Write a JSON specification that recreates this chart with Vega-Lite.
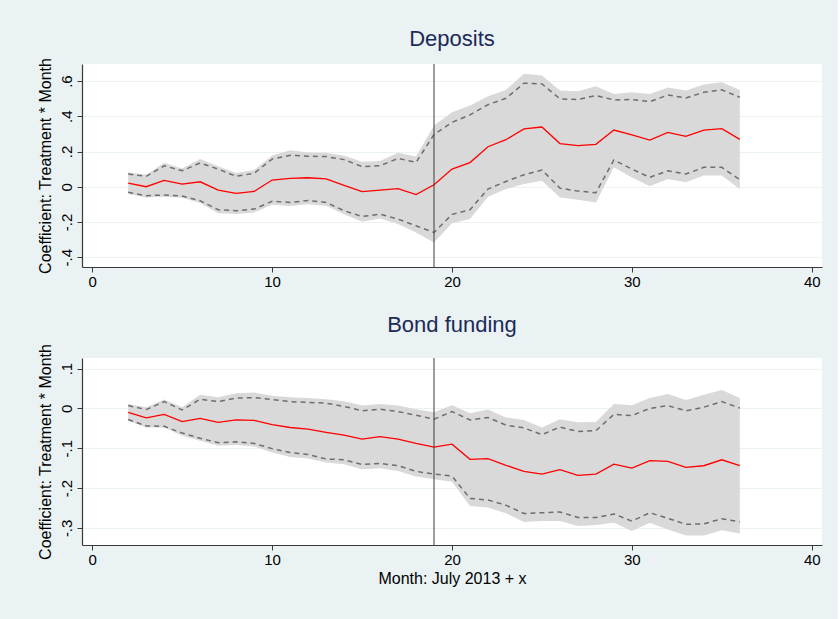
{
  "$schema": "https://vega.github.io/schema/vega-lite/v6.json",
  "background": "#eaf2f3",
  "padding": {"left": 36, "top": 28, "right": 16, "bottom": 50},
  "config": {
    "view": {"stroke": null, "fill": "white"},
    "font": "Liberation Sans",
    "axis": {
      "domainColor": "#3a3a3a", "tickColor": "#3a3a3a", "labelColor": "#000000", "titleColor": "#000000",
      "labelFont": "Liberation Sans", "titleFont": "Liberation Sans", "labelFontSize": 15, "titleFontSize": 16,
      "titleFontWeight": "normal", "tickSize": 5, "domainWidth": 1.2, "tickWidth": 1
    },
    "title": {"font": "Liberation Sans", "fontSize": 22, "fontWeight": "normal", "color": "#1c2a58", "anchor": "middle", "offset": 6},
    "concat": {"spacing": 25}
  },
  "datasets": {
    "dep": [
      {"month": 2, "est": 0.021, "lo90": -0.032, "hi90": 0.072, "lo95": -0.042, "hi95": 0.082},
      {"month": 3, "est": 0.000, "lo90": -0.051, "hi90": 0.059, "lo95": -0.061, "hi95": 0.068},
      {"month": 4, "est": 0.036, "lo90": -0.047, "hi90": 0.119, "lo95": -0.057, "hi95": 0.136},
      {"month": 5, "est": 0.015, "lo90": -0.053, "hi90": 0.091, "lo95": -0.063, "hi95": 0.104},
      {"month": 6, "est": 0.028, "lo90": -0.080, "hi90": 0.135, "lo95": -0.093, "hi95": 0.157},
      {"month": 7, "est": -0.019, "lo90": -0.131, "hi90": 0.100, "lo95": -0.150, "hi95": 0.116},
      {"month": 8, "est": -0.038, "lo90": -0.136, "hi90": 0.059, "lo95": -0.155, "hi95": 0.078},
      {"month": 9, "est": -0.027, "lo90": -0.127, "hi90": 0.076, "lo95": -0.146, "hi95": 0.095},
      {"month": 10, "est": 0.038, "lo90": -0.083, "hi90": 0.157, "lo95": -0.102, "hi95": 0.178},
      {"month": 11, "est": 0.047, "lo90": -0.089, "hi90": 0.178, "lo95": -0.110, "hi95": 0.207},
      {"month": 12, "est": 0.051, "lo90": -0.078, "hi90": 0.173, "lo95": -0.100, "hi95": 0.195},
      {"month": 13, "est": 0.044, "lo90": -0.089, "hi90": 0.171, "lo95": -0.108, "hi95": 0.193},
      {"month": 14, "est": 0.008, "lo90": -0.136, "hi90": 0.154, "lo95": -0.157, "hi95": 0.176},
      {"month": 15, "est": -0.028, "lo90": -0.169, "hi90": 0.114, "lo95": -0.199, "hi95": 0.142},
      {"month": 16, "est": -0.019, "lo90": -0.156, "hi90": 0.119, "lo95": -0.180, "hi95": 0.146},
      {"month": 17, "est": -0.011, "lo90": -0.184, "hi90": 0.161, "lo95": -0.212, "hi95": 0.193},
      {"month": 18, "est": -0.045, "lo90": -0.222, "hi90": 0.138, "lo95": -0.260, "hi95": 0.171},
      {"month": 19, "est": 0.011, "lo90": -0.260, "hi90": 0.296, "lo95": -0.317, "hi95": 0.347},
      {"month": 20, "est": 0.100, "lo90": -0.157, "hi90": 0.366, "lo95": -0.207, "hi95": 0.423},
      {"month": 21, "est": 0.137, "lo90": -0.131, "hi90": 0.408, "lo95": -0.184, "hi95": 0.461},
      {"month": 22, "est": 0.227, "lo90": -0.013, "hi90": 0.466, "lo95": -0.057, "hi95": 0.514},
      {"month": 23, "est": 0.267, "lo90": 0.030, "hi90": 0.502, "lo95": -0.013, "hi95": 0.550},
      {"month": 24, "est": 0.328, "lo90": 0.068, "hi90": 0.588, "lo95": 0.015, "hi95": 0.641},
      {"month": 25, "est": 0.339, "lo90": 0.095, "hi90": 0.584, "lo95": 0.034, "hi95": 0.631},
      {"month": 26, "est": 0.245, "lo90": -0.008, "hi90": 0.499, "lo95": -0.061, "hi95": 0.546},
      {"month": 27, "est": 0.233, "lo90": -0.025, "hi90": 0.495, "lo95": -0.074, "hi95": 0.542},
      {"month": 28, "est": 0.241, "lo90": -0.034, "hi90": 0.518, "lo95": -0.089, "hi95": 0.571},
      {"month": 29, "est": 0.322, "lo90": 0.152, "hi90": 0.493, "lo95": 0.110, "hi95": 0.527},
      {"month": 30, "est": 0.294, "lo90": 0.100, "hi90": 0.495, "lo95": 0.053, "hi95": 0.536},
      {"month": 31, "est": 0.265, "lo90": 0.053, "hi90": 0.483, "lo95": 0.002, "hi95": 0.527},
      {"month": 32, "est": 0.309, "lo90": 0.091, "hi90": 0.521, "lo95": 0.044, "hi95": 0.563},
      {"month": 33, "est": 0.286, "lo90": 0.072, "hi90": 0.504, "lo95": 0.025, "hi95": 0.546},
      {"month": 34, "est": 0.322, "lo90": 0.110, "hi90": 0.536, "lo95": 0.063, "hi95": 0.580},
      {"month": 35, "est": 0.330, "lo90": 0.110, "hi90": 0.550, "lo95": 0.063, "hi95": 0.593},
      {"month": 36, "est": 0.269, "lo90": 0.040, "hi90": 0.508, "lo95": -0.013, "hi95": 0.550}
    ],
    "bond": [
      {"month": 2, "est": -0.010, "lo90": -0.028, "hi90": 0.007, "lo95": -0.031, "hi95": 0.011},
      {"month": 3, "est": -0.024, "lo90": -0.044, "hi90": -0.003, "lo95": -0.048, "hi95": 0.003},
      {"month": 4, "est": -0.015, "lo90": -0.045, "hi90": 0.017, "lo95": -0.048, "hi95": 0.022},
      {"month": 5, "est": -0.033, "lo90": -0.062, "hi90": -0.004, "lo95": -0.069, "hi95": 0.003},
      {"month": 6, "est": -0.025, "lo90": -0.075, "hi90": 0.023, "lo95": -0.081, "hi95": 0.034},
      {"month": 7, "est": -0.035, "lo90": -0.086, "hi90": 0.017, "lo95": -0.094, "hi95": 0.028},
      {"month": 8, "est": -0.029, "lo90": -0.084, "hi90": 0.026, "lo95": -0.092, "hi95": 0.038},
      {"month": 9, "est": -0.030, "lo90": -0.088, "hi90": 0.027, "lo95": -0.096, "hi95": 0.040},
      {"month": 10, "est": -0.041, "lo90": -0.101, "hi90": 0.022, "lo95": -0.111, "hi95": 0.032},
      {"month": 11, "est": -0.048, "lo90": -0.111, "hi90": 0.017, "lo95": -0.122, "hi95": 0.028},
      {"month": 12, "est": -0.052, "lo90": -0.116, "hi90": 0.015, "lo95": -0.126, "hi95": 0.026},
      {"month": 13, "est": -0.060, "lo90": -0.127, "hi90": 0.013, "lo95": -0.136, "hi95": 0.023},
      {"month": 14, "est": -0.067, "lo90": -0.129, "hi90": 0.005, "lo95": -0.140, "hi95": 0.018},
      {"month": 15, "est": -0.077, "lo90": -0.141, "hi90": -0.006, "lo95": -0.153, "hi95": 0.007},
      {"month": 16, "est": -0.071, "lo90": -0.138, "hi90": -0.002, "lo95": -0.150, "hi95": 0.011},
      {"month": 17, "est": -0.077, "lo90": -0.144, "hi90": -0.008, "lo95": -0.157, "hi95": 0.007},
      {"month": 18, "est": -0.088, "lo90": -0.158, "hi90": -0.017, "lo95": -0.171, "hi95": -0.002},
      {"month": 19, "est": -0.097, "lo90": -0.165, "hi90": -0.027, "lo95": -0.178, "hi95": -0.010},
      {"month": 20, "est": -0.090, "lo90": -0.170, "hi90": -0.008, "lo95": -0.184, "hi95": 0.008},
      {"month": 21, "est": -0.128, "lo90": -0.226, "hi90": -0.029, "lo95": -0.245, "hi95": -0.012},
      {"month": 22, "est": -0.126, "lo90": -0.230, "hi90": -0.023, "lo95": -0.249, "hi95": -0.003},
      {"month": 23, "est": -0.143, "lo90": -0.243, "hi90": -0.042, "lo95": -0.263, "hi95": -0.023},
      {"month": 24, "est": -0.158, "lo90": -0.264, "hi90": -0.049, "lo95": -0.285, "hi95": -0.029},
      {"month": 25, "est": -0.165, "lo90": -0.262, "hi90": -0.066, "lo95": -0.283, "hi95": -0.048},
      {"month": 26, "est": -0.154, "lo90": -0.260, "hi90": -0.047, "lo95": -0.283, "hi95": -0.027},
      {"month": 27, "est": -0.168, "lo90": -0.274, "hi90": -0.058, "lo95": -0.295, "hi95": -0.035},
      {"month": 28, "est": -0.165, "lo90": -0.274, "hi90": -0.056, "lo95": -0.293, "hi95": -0.034},
      {"month": 29, "est": -0.140, "lo90": -0.265, "hi90": -0.015, "lo95": -0.287, "hi95": 0.011},
      {"month": 30, "est": -0.150, "lo90": -0.283, "hi90": -0.018, "lo95": -0.308, "hi95": 0.008},
      {"month": 31, "est": -0.131, "lo90": -0.262, "hi90": 0.000, "lo95": -0.287, "hi95": 0.026},
      {"month": 32, "est": -0.133, "lo90": -0.276, "hi90": 0.007, "lo95": -0.304, "hi95": 0.036},
      {"month": 33, "est": -0.148, "lo90": -0.291, "hi90": -0.006, "lo95": -0.319, "hi95": 0.021},
      {"month": 34, "est": -0.144, "lo90": -0.290, "hi90": 0.003, "lo95": -0.319, "hi95": 0.034},
      {"month": 35, "est": -0.129, "lo90": -0.277, "hi90": 0.017, "lo95": -0.306, "hi95": 0.046},
      {"month": 36, "est": -0.144, "lo90": -0.285, "hi90": 0.001, "lo95": -0.314, "hi95": 0.026}
    ],
    "event": [{"month": 19}]
  },
  "vconcat": [
    {
      "title": {"text": "Deposits"},
      "width": 740,
      "height": 203,
      "data": {"name": "dep"},
      "encoding": {
        "x": {"field": "month", "type": "quantitative", "scale": {"domain": [-0.57, 40.57], "nice": false, "zero": false},
              "axis": {"values": [0, 10, 20, 30, 40], "grid": false, "title": null, "labelPadding": 2}}
      },
      "layer": [
        {
          "mark": {"type": "area", "color": "#d9d9d9", "opacity": 1},
          "encoding": {
            "y": {"field": "lo95", "type": "quantitative",
                  "scale": {"domain": [-0.456, 0.697], "nice": false, "zero": false},
                  "axis": {"values": [-0.4, -0.2, 0, 0.2, 0.4, 0.6], "grid": true, "gridColor": "#eaf2f3", "gridWidth": 1.2,
                           "labelAngle": -90, "labelPadding": 3,
                           "labelExpr": "datum.value == 0 ? '0' : (datum.value < 0 ? '-' : '') + '.' + round(abs(datum.value) * 10)",
                           "title": "Coefficient: Treatment * Month", "titlePadding": 6}},
            "y2": {"field": "hi95"}
          }
        },
        {
          "mark": {"type": "line", "color": "#6e6e6e", "strokeWidth": 1.5, "strokeDash": [5, 4]},
          "encoding": {"y": {"field": "hi90", "type": "quantitative"}}
        },
        {
          "mark": {"type": "line", "color": "#6e6e6e", "strokeWidth": 1.5, "strokeDash": [5, 4]},
          "encoding": {"y": {"field": "lo90", "type": "quantitative"}}
        },
        {
          "mark": {"type": "line", "color": "#ff0000", "strokeWidth": 1.3},
          "encoding": {"y": {"field": "est", "type": "quantitative"}}
        },
        {
          "data": {"name": "event"},
          "mark": {"type": "rule", "color": "#3a3a3a", "strokeWidth": 1},
          "encoding": {"x": {"field": "month", "type": "quantitative"}}
        }
      ]
    },
    {
      "title": {"text": "Bond funding"},
      "width": 740,
      "height": 187,
      "data": {"name": "bond"},
      "encoding": {
        "x": {"field": "month", "type": "quantitative", "scale": {"domain": [-0.57, 40.57], "nice": false, "zero": false},
              "axis": {"values": [0, 10, 20, 30, 40], "grid": false, "title": "Month: July 2013 + x", "labelPadding": 2, "titlePadding": 3}}
      },
      "layer": [
        {
          "mark": {"type": "area", "color": "#d9d9d9", "opacity": 1},
          "encoding": {
            "y": {"field": "lo95", "type": "quantitative",
                  "scale": {"domain": [-0.343, 0.1265], "nice": false, "zero": false},
                  "axis": {"values": [-0.3, -0.2, -0.1, 0, 0.1], "grid": true, "gridColor": "#eaf2f3", "gridWidth": 1.2,
                           "labelAngle": -90, "labelPadding": 3,
                           "labelExpr": "datum.value == 0 ? '0' : (datum.value < 0 ? '-' : '') + '.' + round(abs(datum.value) * 10)",
                           "title": "Coefficient: Treatment * Month", "titlePadding": 6}},
            "y2": {"field": "hi95"}
          }
        },
        {
          "mark": {"type": "line", "color": "#6e6e6e", "strokeWidth": 1.5, "strokeDash": [5, 4]},
          "encoding": {"y": {"field": "hi90", "type": "quantitative"}}
        },
        {
          "mark": {"type": "line", "color": "#6e6e6e", "strokeWidth": 1.5, "strokeDash": [5, 4]},
          "encoding": {"y": {"field": "lo90", "type": "quantitative"}}
        },
        {
          "mark": {"type": "line", "color": "#ff0000", "strokeWidth": 1.3},
          "encoding": {"y": {"field": "est", "type": "quantitative"}}
        },
        {
          "data": {"name": "event"},
          "mark": {"type": "rule", "color": "#3a3a3a", "strokeWidth": 1},
          "encoding": {"x": {"field": "month", "type": "quantitative"}}
        }
      ]
    }
  ]
}
